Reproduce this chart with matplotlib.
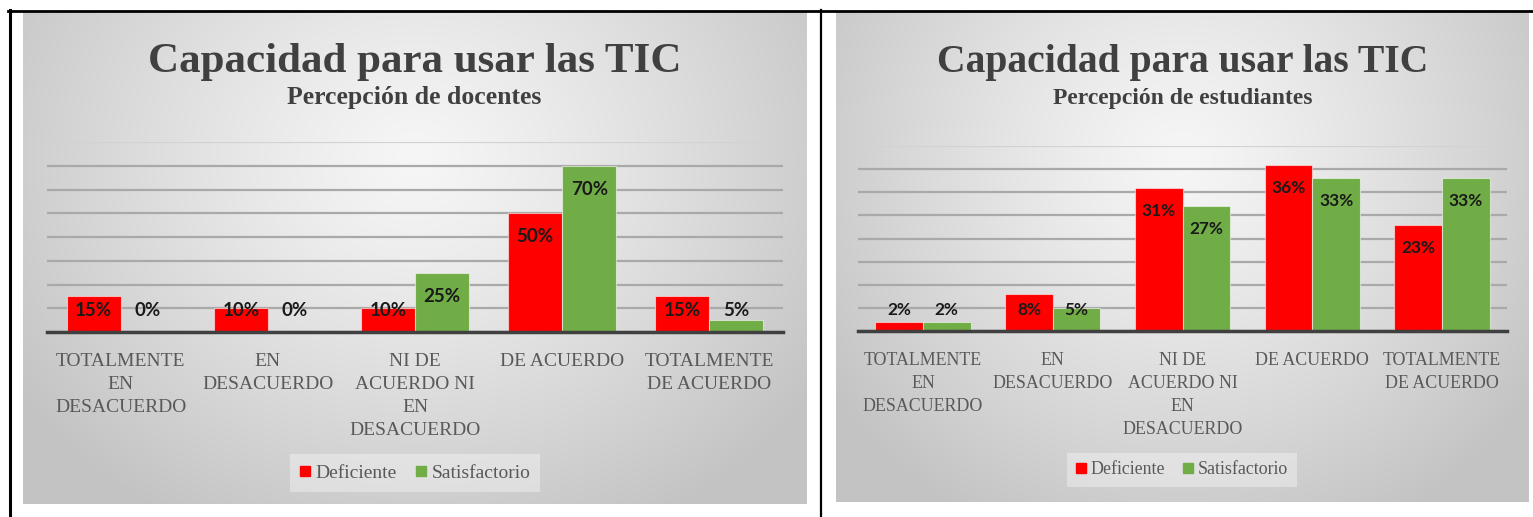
import numpy as np
import matplotlib
matplotlib.use("Agg")
import matplotlib.pyplot as plt
from matplotlib.lines import Line2D

# ---------------- data ----------------
categories = ["TOTALMENTE\nEN\nDESACUERDO", "EN\nDESACUERDO",
              "NI DE\nACUERDO NI\nEN\nDESACUERDO", "DE ACUERDO",
              "TOTALMENTE\nDE ACUERDO"]
series_names = ["Deficiente", "Satisfactorio"]

docentes_deficiente = [15, 10, 10, 50, 15]
docentes_satisfactorio = [0, 0, 25, 70, 5]

estudiantes_deficiente = [2, 8, 31, 36, 23]
estudiantes_satisfactorio = [2, 5, 27, 33, 33]

title_text = "Capacidad para usar las TIC"
subtitle_docentes = "Percepción de docentes"
subtitle_estudiantes = "Percepción de estudiantes"

# ---------------- style ----------------
W, H = 1533, 517
RED = "#FF0000"
GREEN = "#70AD47"
SERIF = "Liberation Serif"
LABELFONT = "Lato"

fig = plt.figure(figsize=(W / 100, H / 100), dpi=100)
fig.patch.set_facecolor("white")


def rect(x0, y0, x1, y1):
    """pixel box (top-left origin) -> figure fraction rect"""
    return [x0 / W, 1 - y1 / H, (x1 - x0) / W, (y1 - y0) / H]


def gradient_panel(box):
    ax = fig.add_axes(rect(*box), zorder=0)
    ny, nx = 200, 300
    yy, xx = np.mgrid[0:1:ny * 1j, 0:1:nx * 1j]
    d = np.sqrt(((xx - 0.5) / 0.62) ** 2 + ((yy - 0.3) / 0.85) ** 2)
    d = np.clip(d, 0, 1)
    v = 0.965 - 0.2 * d ** 1.2
    img = np.dstack([v, v, v])
    ax.imshow(img, extent=[0, 1, 0, 1], origin="upper", aspect="auto",
              interpolation="bilinear")
    ax.set_xlim(0, 1)
    ax.set_ylim(0, 1)
    ax.axis("off")
    return ax


def chart(panel_box, plot_box, deficiente, satisfactorio, ymax, step,
          subtitle, legend_center, scale):
    gradient_panel(panel_box)
    px0, py0, px1, py1 = panel_box
    cx = (px0 + px1) / 2
    fig.text(cx / W, 1 - 72 / H, title_text, ha="center", va="baseline",
             fontsize=31 * scale, fontweight="bold", family=SERIF,
             color="#404040", zorder=5)
    fig.text(cx / W, 1 - 104 / H, subtitle, ha="center", va="baseline",
             fontsize=18.5 * scale, fontweight="bold", family=SERIF,
             color="#404040", zorder=5)

    ax = fig.add_axes(rect(*plot_box), zorder=2)
    ax.patch.set_alpha(0)
    x = np.arange(len(categories))
    w = 0.367
    b1 = ax.bar(x - w / 2, deficiente, w, color=RED,
                edgecolor=(1, 1, 1, 0.55), linewidth=0.8, zorder=3,
                label=series_names[0])
    b2 = ax.bar(x + w / 2, satisfactorio, w, color=GREEN,
                edgecolor=(1, 1, 1, 0.55), linewidth=0.8, zorder=3,
                label=series_names[1])
    ax.set_xlim(-0.5, len(categories) - 0.5)
    ax.set_ylim(0, ymax)
    ax.set_yticks(np.arange(0, ymax + step / 2, step))
    ax.yaxis.grid(True, color="#A9A9A9", linewidth=1.6, zorder=1)
    ax.set_axisbelow(True)
    gl = ax.get_ygridlines()
    gl[-1].set_color("#D2D2D2")
    ax.tick_params(axis="y", left=False, labelleft=False)
    for s in ("top", "left", "right"):
        ax.spines[s].set_visible(False)
    ax.spines["bottom"].set_color("#404040")
    ax.spines["bottom"].set_linewidth(2.5)
    ax.spines["bottom"].set_zorder(4)
    ax.set_xticks(x)
    ax.set_xticklabels(categories, family=SERIF, fontsize=14 * scale,
                       color="#595959", linespacing=1.46)
    ax.tick_params(axis="x", length=0, pad=15)

    for bars, vals in ((b1, deficiente), (b2, satisfactorio)):
        for rct, v in zip(bars, vals):
            ycen = max(v - step, 0.9 * step)
            ax.text(rct.get_x() + rct.get_width() / 2, ycen, f"{v}%",
                    ha="center", va="center", fontsize=13.5 * scale,
                    fontweight="bold", family=LABELFONT, color="#1A1A1A",
                    zorder=6)

    handles = [Line2D([], [], marker="s", ls="none", color=RED, markersize=6.5),
               Line2D([], [], marker="s", ls="none", color=GREEN, markersize=6.5)]
    leg = ax.legend(handles, series_names, loc="center",
                    bbox_to_anchor=(legend_center[0] / W, 1 - legend_center[1] / H),
                    bbox_transform=fig.transFigure, ncol=2, frameon=True,
                    fancybox=False, facecolor="white", framealpha=0.35,
                    edgecolor="none", prop={"family": SERIF, "size": 14 * scale},
                    handlelength=0.55, handletextpad=0.25, columnspacing=1.0,
                    borderpad=0.5, borderaxespad=0)
    for t in leg.get_texts():
        t.set_color("#595959")
    return ax


chart((23, 12, 806, 504), (47, 142, 783, 332),
      docentes_deficiente, docentes_satisfactorio, 80, 10,
      subtitle_docentes, (415, 473), 1.0)
chart((836, 12, 1529, 502), (858, 146, 1507, 331),
      estudiantes_deficiente, estudiantes_satisfactorio, 40, 5,
      subtitle_estudiantes, (1182, 470), 0.92)

# table frame lines (pixel coordinates)
def hline(y, x0, x1, lw):
    fig.add_artist(Line2D([x0 / W, x1 / W], [1 - y / H, 1 - y / H],
                          color="black", linewidth=lw, zorder=10))


def vline(x, y0, y1, lw):
    fig.add_artist(Line2D([x / W, x / W], [1 - y0 / H, 1 - y1 / H],
                          color="black", linewidth=lw, zorder=10))

hline(11, 8, W, 2.0)
vline(9.5, 10, H, 2.2)
vline(821, 10, H, 1.6)

fig.savefig("out.png", dpi=100)
